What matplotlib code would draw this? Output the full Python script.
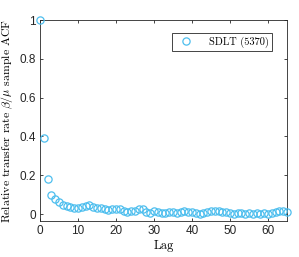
import matplotlib.pyplot as plt
import numpy as np

# sample ACF values for lags 0..65
lags = np.arange(66)
acf = [1.0, 0.39, 0.18, 0.10, 0.075, 0.06, 0.045, 0.04, 0.035, 0.03,
       0.03, 0.035, 0.04, 0.045, 0.035, 0.03, 0.03, 0.025, 0.02, 0.025,
       0.025, 0.025, 0.015, 0.01, 0.015, 0.015, 0.025, 0.025, 0.01, 0.005,
       0.015, 0.01, 0.005, 0.005, 0.01, 0.01, 0.005, 0.01, 0.015, 0.01,
       0.01, 0.005, 0.0, 0.005, 0.01, 0.015, 0.015, 0.015, 0.01, 0.01,
       0.005, 0.0, 0.005, 0.005, 0.0, 0.005, 0.0, 0.005, 0.0, 0.005,
       0.0, 0.005, 0.01, 0.015, 0.015, 0.01]

xticks = [0, 10, 20, 30, 40, 50, 60]
yticks = [0, 0.2, 0.4, 0.6, 0.8, 1]
ytick_labels = ['0', '0.2', '0.4', '0.6', '0.8', '1']

plt.rcParams['mathtext.fontset'] = 'cm'
plt.rcParams['font.family'] = ['Liberation Sans', 'DejaVu Sans']

fig = plt.figure(figsize=(2.99, 2.57), dpi=100)
ax = fig.add_axes([0.134, 0.140, 0.826, 0.782])

ax.plot(lags, acf, 'o', mfc='none', mec='#4DBEEE', mew=0.9, ms=5.2,
        clip_on=False, label='SDLT (5370)', zorder=3)

ax.set_xlim(0, 65)
ax.set_ylim(-0.036, 1.0)
ax.set_xticks(xticks)
ax.set_yticks(yticks)
ax.set_yticklabels(ytick_labels)
ax.tick_params(direction='in', length=2.5, width=0.6, labelsize=8.5,
               top=True, right=True, colors='#262626', pad=3)
for s in ax.spines.values():
    s.set_linewidth(0.6)
    s.set_color('#262626')

ax.set_xlabel('Lag', family='cmr10', fontsize=9, labelpad=2)
ax.set_ylabel(r'Relative transfer rate $\beta/\mu$ sample ACF',
              family='cmr10', fontsize=8.5, labelpad=3)

leg = ax.legend(loc='upper right', prop={'family': 'cmr10', 'size': 7.5},
                fancybox=False, edgecolor='#262626', framealpha=1,
                borderpad=0.3, handletextpad=1.2, bbox_to_anchor=(0.96, 0.96))
leg.get_frame().set_linewidth(0.6)

fig.savefig('out.png', dpi=100)
